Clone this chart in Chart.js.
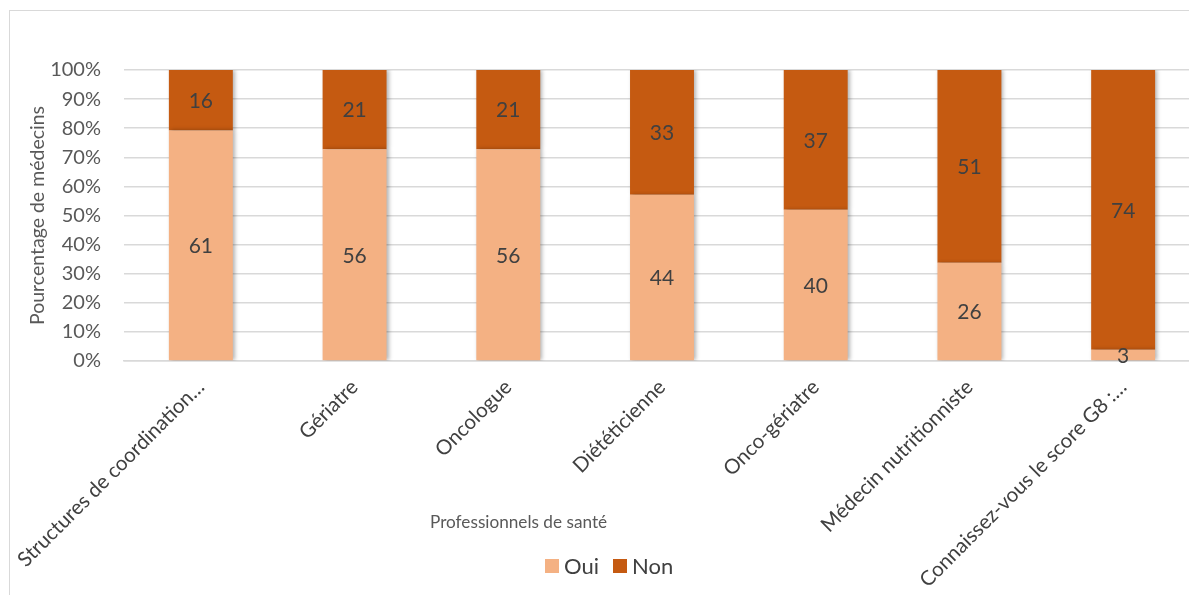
<!DOCTYPE html>
<html lang="fr">
<head>
<meta charset="utf-8">
<script src="https://cdn.jsdelivr.net/npm/chart.js@4"></script>
<style>
  html, body { margin: 0; padding: 0; background: #fff; overflow: hidden; width: 1189px; height: 595px; }
  #frame { position: absolute; left: 9px; top: 10px; width: 1200px; height: 600px; border: 1px solid #d9d9d9; background: #fff; }
  #frame canvas { position: absolute; left: 0; top: 0; }
  #xtitle { position: absolute; left: 430px; top: 511px; font-family: Lato, "Open Sans", sans-serif; font-size: 17.2px; color: #595959; white-space: nowrap; }
  .lg { position: absolute; font-family: Lato, "Open Sans", sans-serif; font-size: 22px; line-height: 22px; color: #404040; white-space: nowrap; }
  .sw { position: absolute; width: 14px; height: 14px; }
</style>
</head>
<body>
<div id="frame"><canvas id="c"></canvas></div>
<div id="xtitle">Professionnels de santé</div>
<div id="legend"></div>
<script>
const categories = [
  "Structures de coordination…",
  "Gériatre",
  "Oncologue",
  "Diététicienne",
  "Onco-gériatre",
  "Médecin nutritionniste",
  "Connaissez-vous le score G8 :…"
];
const seriesNames = ["Oui", "Non"];
const ouiCounts = [61, 56, 56, 44, 40, 26, 3];
const nonCounts = [16, 21, 21, 33, 37, 51, 74];
const yTicks = [0, 10, 20, 30, 40, 50, 60, 70, 80, 90, 100];
const colors = ["#F4B183", "#C55A11"];

const FONT = 'Lato, "Open Sans", sans-serif';

const totals = ouiCounts.map((v, i) => v + nonCounts[i]);
const ouiPct = ouiCounts.map((v, i) => v / totals[i] * 100);
const nonPct = nonCounts.map((v, i) => v / totals[i] * 100);
const countsBySeries = [ouiCounts, nonCounts];

// legend (HTML)
const legendEl = document.getElementById('legend');
const legendPos = [{ sw: 545, tx: 564 }, { sw: 613, tx: 632 }];
seriesNames.forEach((n, i) => {
  const sw = document.createElement('div');
  sw.className = 'sw';
  sw.style.left = legendPos[i].sw + 'px';
  sw.style.top = '559px';
  sw.style.background = colors[i];
  const tx = document.createElement('div');
  tx.className = 'lg';
  tx.style.left = legendPos[i].tx + 'px';
  tx.style.top = '555px';
  tx.textContent = n;
  legendEl.appendChild(sw);
  legendEl.appendChild(tx);
});

const shadowPlugin = {
  id: 'barShadow',
  beforeDatasetsDraw(chart) {
    const ctx = chart.ctx;
    ctx.save();
    ctx.shadowColor = 'rgba(0,0,0,0.30)';
    ctx.shadowBlur = 4;
    ctx.shadowOffsetX = 2;
    ctx.shadowOffsetY = 0;
  },
  afterDatasetsDraw(chart) {
    chart.ctx.restore();
  }
};

const labelPlugin = {
  id: 'segLabels',
  afterDraw(chart) {
    const ctx = chart.ctx;
    ctx.save();
    ctx.font = '21px ' + FONT;
    ctx.fillStyle = '#404040';
    ctx.textAlign = 'center';
    ctx.textBaseline = 'middle';
    chart.data.datasets.forEach((ds, di) => {
      const meta = chart.getDatasetMeta(di);
      meta.data.forEach((bar, i) => {
        const cy = (bar.y + bar.base) / 2;
        ctx.fillText(String(countsBySeries[di][i]), bar.x, cy + 1);
      });
    });
    ctx.restore();
  }
};

new Chart(document.getElementById('c'), {
  type: 'bar',
  data: {
    labels: categories,
    datasets: [
      { label: seriesNames[0], data: ouiPct, backgroundColor: colors[0], borderWidth: 0 },
      { label: seriesNames[1], data: nonPct, backgroundColor: colors[1], borderWidth: 0 }
    ]
  },
  options: {
    responsive: true,
    maintainAspectRatio: false,
    animation: false,
    devicePixelRatio: 1,
    layout: { padding: { left: 0, right: 10, top: 59, bottom: 0 } },
    datasets: { bar: { categoryPercentage: 1.0, barPercentage: 0.416 } },
    plugins: {
      legend: { display: false },
      tooltip: { enabled: false }
    },
    scales: {
      x: {
        stacked: true,
        grid: { display: false, drawTicks: false },
        border: { display: true, color: '#d9d9d9', width: 1.5 },
        ticks: {
          autoSkip: false,
          minRotation: 45,
          maxRotation: 45,
          padding: 14,
          color: '#404040',
          font: { family: FONT, size: 20.5 }
        },
        afterFit(scale) {
          scale.height = 250;
          scale.paddingLeft = 0;
          scale.paddingRight = 0;
        }
      },
      y: {
        stacked: true,
        min: 0,
        max: 100,
        afterBuildTicks(scale) {
          scale.ticks = yTicks.map(v => ({ value: v }));
        },
        grid: { color: '#d9d9d9', lineWidth: 1.5, drawTicks: false },
        border: { display: false },
        ticks: {
          padding: 23,
          color: '#595959',
          font: { family: FONT, size: 20 },
          callback: v => v + '%'
        },
        title: {
          display: true,
          text: 'Pourcentage de médecins',
          color: '#595959',
          font: { family: FONT, size: 19.5 },
          padding: { top: 16, bottom: 0 }
        },
        afterFit(scale) {
          scale.width = 114;
        }
      }
    }
  },
  plugins: [shadowPlugin, labelPlugin]
});
</script>
</body>
</html>
